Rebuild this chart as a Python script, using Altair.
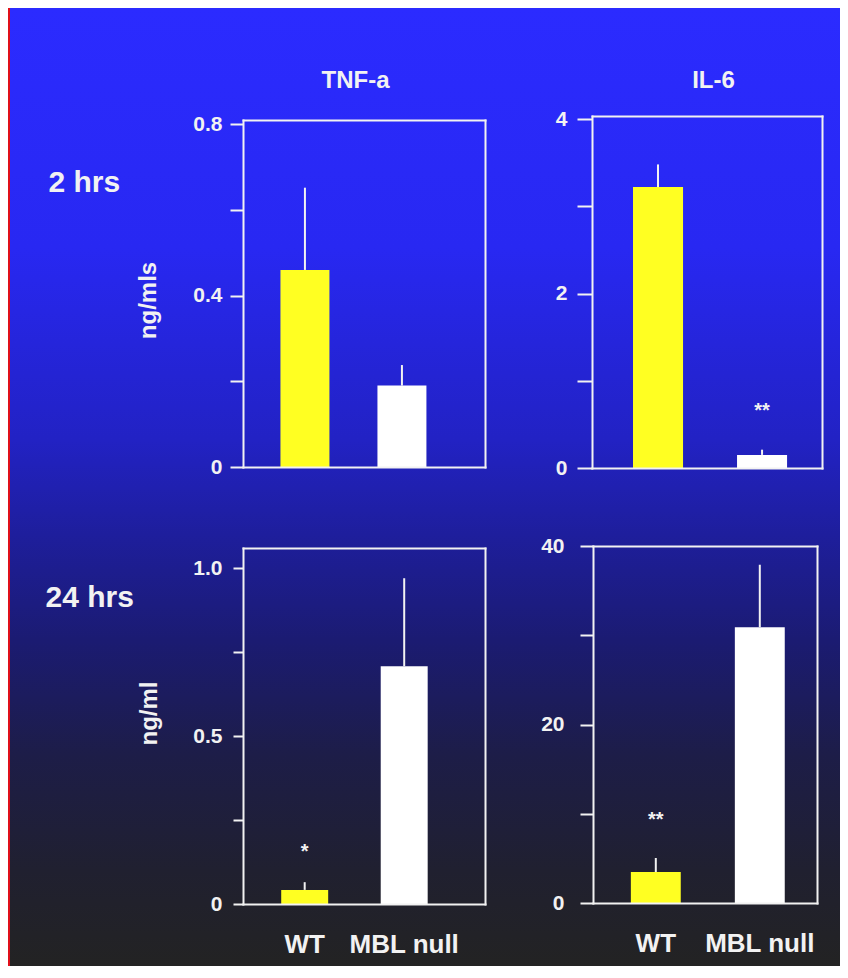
import altair as alt
import pandas as pd

# ---------------- data ----------------
groups = ["WT", "MBL null"]
bar_colors = ["#ffff22", "#ffffff"]

tnf_2h_mean = [0.46, 0.19]
tnf_2h_upper = [0.652, 0.238]
il6_2h_mean = [3.22, 0.15]
il6_2h_upper = [3.48, 0.21]
tnf_24h_mean = [0.042, 0.708]
tnf_24h_upper = [0.065, 0.97]
il6_24h_mean = [3.47, 30.9]
il6_24h_upper = [5.04, 37.9]

il6_2h_star_group = ["MBL null"]
il6_2h_star_text = ["**"]
il6_2h_star_pos = [0.71]
tnf_24h_star_group = ["WT"]
tnf_24h_star_text = ["*"]
tnf_24h_star_pos = [0.17]
il6_24h_star_group = ["WT"]
il6_24h_star_text = ["**"]
il6_24h_star_pos = [9.9]

tnf_2h_ticks = [0, 0.2, 0.4, 0.6, 0.8]
tnf_2h_tick_labels = ["0", "", "0.4", "", "0.8"]
il6_2h_ticks = [0, 1, 2, 3, 4]
il6_2h_tick_labels = ["0", "", "2", "", "4"]
tnf_24h_ticks = [0, 0.25, 0.5, 0.75, 1.0]
tnf_24h_tick_labels = ["0", "", "0.5", "", "1.0"]
il6_24h_ticks = [0, 10, 20, 30, 40]
il6_24h_tick_labels = ["0", "", "20", "", "40"]

column_titles = ["TNF-a", "IL-6"]
row_titles = ["2 hrs", "24 hrs"]
y_titles = ["ng/mls", "ng/ml"]

# ---------------- layout / style ----------------
W, H = 832, 958
FONT = "Liberation Sans, Arial, Helvetica, sans-serif"
FG = "#f2f2f2"


def label_expr(vals, texts):
    expr = "''"
    for v, t in reversed(list(zip(vals, texts))):
        expr = f"datum.value == {v} ? '{t}' : ({expr})"
    return expr


panels = [
    dict(mean=tnf_2h_mean, upper=tnf_2h_upper, stars=None,
         ticks=tnf_2h_ticks, tlabels=tnf_2h_tick_labels,
         xr=[235, 477], pi=0.495, po=0.495, al=0.39,
         yd=[0, 0.81], yr=[459, 112], tick=13, lpad=8,
         xlabels=False, col_title=column_titles[0], col_tx=347, col_ty=72,
         row_title=row_titles[0], row_tx=40, row_ty=174,
         y_title=y_titles[0], y_tx=140, y_ty=292),
    dict(mean=il6_2h_mean, upper=il6_2h_upper,
         stars=(il6_2h_star_group, il6_2h_star_text, il6_2h_star_pos),
         ticks=il6_2h_ticks, tlabels=il6_2h_tick_labels,
         xr=[584, 814], pi=0.519, po=0.365, al=0.54,
         yd=[0, 4.035], yr=[460, 108], tick=15, lpad=10,
         xlabels=False, col_title=column_titles[1], col_tx=705, col_ty=72,
         row_title=None, y_title=None),
    dict(mean=tnf_24h_mean, upper=tnf_24h_upper,
         stars=(tnf_24h_star_group, tnf_24h_star_text, tnf_24h_star_pos),
         ticks=tnf_24h_ticks, tlabels=tnf_24h_tick_labels,
         xr=[235, 477], pi=0.528, po=0.48, al=0.40,
         yd=[0, 1.06], yr=[896, 540], tick=10, lpad=11,
         xlabels=True, col_title=None,
         row_title=row_titles[1], row_tx=37, row_ty=589,
         y_title=y_titles[1], y_tx=141, y_ty=705),
    dict(mean=il6_24h_mean, upper=il6_24h_upper,
         stars=(il6_24h_star_group, il6_24h_star_text, il6_24h_star_pos),
         ticks=il6_24h_ticks, tlabels=il6_24h_tick_labels,
         xr=[585, 809], pi=0.52, po=0.337, al=0.54,
         yd=[0, 40], yr=[895, 538], tick=13, lpad=16,
         xlabels=True, col_title=None, row_title=None, y_title=None),
]


def build_panel(p):
    df = pd.DataFrame({"group": groups, "value": p["mean"], "upper": p["upper"]})
    xr, yr = p["xr"], p["yr"]
    xs = alt.Scale(type="band", domain=groups, range=xr, paddingInner=p["pi"],
                   paddingOuter=p["po"], align=p["al"])
    ys = alt.Scale(type="linear", domain=p["yd"], range=yr, nice=False, zero=True)
    cs = alt.Scale(domain=groups, range=bar_colors)

    y_kw = dict(orient="left", offset=-xr[0], values=p["ticks"],
                labelExpr=label_expr(p["ticks"], p["tlabels"]), grid=False,
                domainColor=FG, domainWidth=2, domainCap="square",
                tickColor=FG, tickWidth=2, tickSize=p["tick"],
                labelColor=FG, labelFont=FONT, labelFontSize=21, labelFontWeight="bold",
                labelPadding=p["lpad"], labelOverlap=False, zindex=1)
    if p["y_title"]:
        y_kw.update(title=p["y_title"], titleX=p["y_tx"] - xr[0], titleY=p["y_ty"],
                    titleAngle=270, titleAlign="center", titleBaseline="middle",
                    titleColor=FG, titleFont=FONT, titleFontSize=24, titleFontWeight="bold")
    else:
        y_kw.update(title=None)
    y_axis = alt.Axis(**y_kw)

    x_axis = alt.Axis(orient="bottom", offset=yr[0] - H, ticks=False, grid=False,
                      domainColor=FG, domainWidth=2, domainCap="square",
                      labels=p["xlabels"], labelAngle=0, labelColor=FG, labelFont=FONT,
                      labelFontSize=26, labelFontWeight="bold", labelPadding=27,
                      title=None, zindex=1)

    bars = alt.Chart(df).mark_bar().encode(
        x=alt.X("group:N", scale=xs, axis=x_axis),
        y=alt.Y("value:Q", scale=ys, axis=y_axis),
        color=alt.Color("group:N", scale=cs, legend=None),
    )

    if p["row_title"]:
        row_axis = alt.Axis(orient="left", offset=-xr[0], domain=False, ticks=False,
                            labels=False, grid=False, title=p["row_title"],
                            titleX=p["row_tx"] - xr[0], titleY=p["row_ty"], titleAngle=0,
                            titleAlign="left", titleBaseline="middle", titleColor=FG,
                            titleFont=FONT, titleFontSize=30, titleFontWeight="bold",
                            zindex=1)
    else:
        row_axis = None

    rules = alt.Chart(df).mark_rule(color=FG, strokeWidth=2).encode(
        x=alt.X("group:N", scale=xs, axis=None),
        y=alt.Y("value:Q", scale=ys, axis=row_axis),
        y2="upper:Q",
    )

    top_kw = dict(orient="top", offset=-yr[1], ticks=False, labels=False, grid=False,
                  domainColor=FG, domainWidth=2, domainCap="square", zindex=1)
    if p["col_title"]:
        top_kw.update(title=p["col_title"], titleX=p["col_tx"], titleY=p["col_ty"] - yr[1],
                      titleAlign="center", titleBaseline="middle", titleColor=FG,
                      titleFont=FONT, titleFontSize=24, titleFontWeight="bold")
    else:
        top_kw.update(title=None)
    right_axis = alt.Axis(orient="right", offset=xr[1] - W, ticks=False, labels=False,
                          grid=False, domainColor=FG, domainWidth=2, domainCap="square",
                          title=None, zindex=1)
    frame = alt.Chart(df).mark_point(opacity=0).encode(
        x=alt.X("group:N", scale=xs, axis=alt.Axis(**top_kw)),
        y=alt.Y("value:Q", scale=ys, axis=right_axis),
    )

    layers = [bars, rules]
    if p["stars"]:
        sg, st, sp = p["stars"]
        sdf = pd.DataFrame({"group": sg, "txt": st, "pos": sp})
        stars = alt.Chart(sdf).mark_text(color=FG, font=FONT, fontSize=20,
                                         fontWeight="bold", dy=5).encode(
            x=alt.X("group:N", scale=xs, axis=None),
            y=alt.Y("pos:Q", scale=ys, axis=None),
            text="txt:N",
        )
        layers.append(stars)
    layers.append(frame)
    return alt.layer(*layers).resolve_axis(x="independent", y="independent")


gradient = alt.LinearGradient(
    gradient="linear",
    stops=[
        alt.GradientStop(offset=0.0, color="#2b2bff"),
        alt.GradientStop(offset=0.25, color="#2828f2"),
        alt.GradientStop(offset=0.45, color="#2222c4"),
        alt.GradientStop(offset=0.55, color="#1e1e9c"),
        alt.GradientStop(offset=0.66, color="#1b1b72"),
        alt.GradientStop(offset=0.78, color="#1d1d48"),
        alt.GradientStop(offset=0.9, color="#202030"),
        alt.GradientStop(offset=1.0, color="#232323"),
    ],
    x1=0, x2=0, y1=0, y2=1,
)

bg = alt.Chart(pd.DataFrame({"k": [0]})).mark_rect(color=gradient).encode(
    x=alt.value(0), x2=alt.value("width"), y=alt.value(0), y2=alt.value("height")
)
red_edge = alt.Chart(pd.DataFrame({"k": [0]})).mark_rule(color="#e0101a", strokeWidth=2).encode(
    x=alt.value(1), y=alt.value(0), y2=alt.value("height")
)

chart = (
    alt.layer(bg, red_edge, *[build_panel(p) for p in panels])
    .resolve_scale(x="independent", y="independent")
    .resolve_axis(x="independent", y="independent")
    .properties(width=W, height=H, padding=0, autosize=alt.AutoSizeParams(type="none"),
                background="#2b2bff")
    .configure_view(strokeWidth=0)
)

chart.save("out.html", embed_options={"renderer": "svg", "actions": False})
